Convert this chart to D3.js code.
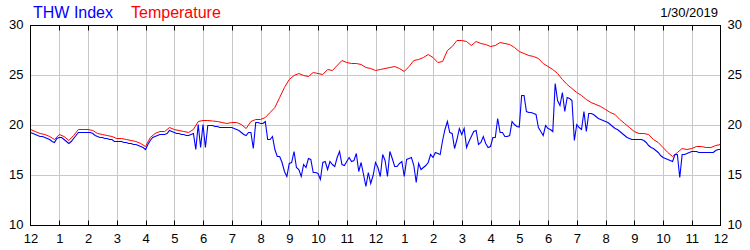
<!DOCTYPE html>
<html>
<head>
<meta charset="utf-8">
<script src="https://cdn.jsdelivr.net/npm/d3@7"></script>
<style>
  body { margin: 0; background: #fff; }
  svg text { font-family: "Liberation Sans", Arial, sans-serif; }
</style>
</head>
<body>
<svg id="chart" width="750" height="250"></svg>
<script>
// hour labels along the bottom, midnight to midnight
const hourLabels = ["12","1","2","3","4","5","6","7","8","9","10","11","12","1","2","3","4","5","6","7","8","9","10","11","12"];
const yTicks = [10, 15, 20, 25, 30];
const chartDate = "1/30/2019";

// temperature, one reading every 10 minutes
const temperature = [
  19.6,19.4,19.2,19.1,18.9,18.6,19.1,18.9,18.5,19.0,
  19.6,19.6,19.6,19.5,19.2,19.1,19.0,18.9,18.7,18.7,
  18.6,18.5,18.4,18.2,17.9,18.8,19.2,19.4,19.4,19.8,
  19.6,19.5,19.4,19.3,19.6,20.4,20.5,20.5,20.45,20.4,
  20.3,20.2,20.3,20.3,20.1,19.7,20.4,20.6,20.6,20.8,
  21.3,21.8,22.8,23.8,24.6,25.0,25.2,25.0,24.9,25.3,
  25.2,25.1,25.6,25.5,26.0,26.5,26.3,26.2,26.2,26.1,
  25.8,25.7,25.5,25.6,25.7,25.8,25.9,25.7,25.4,25.9,
  26.5,26.6,26.8,27.1,26.8,26.3,26.4,27.5,27.9,28.5,
  28.5,28.4,28.0,28.4,28.2,28.1,27.9,28.0,28.3,28.2,
  28.1,27.8,27.4,27.2,27.0,26.9,26.7,26.2,25.9,25.6,
  25.2,24.6,24.1,23.7,23.3,23.0,22.6,22.3,22.1,21.9,
  21.6,21.3,21.1,20.6,20.2,19.8,19.4,19.2,19.2,19.1,
  18.6,18.3,17.8,17.3,16.9,17.3,17.7,17.6,17.7,17.9,
  17.9,17.8,17.8,18.0,18.1
];

// THW index, one reading every 5 minutes
const thwIndex = [
  19.3,19.2,19.1,19.0,18.9,18.9,18.8,18.7,18.6,18.4,
  18.3,18.7,18.8,18.8,18.6,18.4,18.2,18.4,18.7,19.0,
  19.3,19.3,19.3,19.3,19.3,19.3,19.2,19.0,18.9,18.8,
  18.8,18.7,18.7,18.6,18.6,18.4,18.4,18.4,18.4,18.3,
  18.3,18.2,18.2,18.1,18.1,18.0,17.9,17.8,17.6,18.1,
  18.5,18.8,18.9,19.0,19.1,19.1,19.1,19.2,19.5,19.4,
  19.3,19.2,19.2,19.1,19.1,19.0,19.0,19.1,19.2,17.6,
  20.1,17.8,20.1,17.8,20.0,20.0,20.0,19.9,19.9,19.8,
  19.8,19.8,19.8,19.8,19.8,19.7,19.6,19.5,19.3,19.1,
  19.0,19.3,19.3,17.7,20.3,20.3,20.2,20.2,20.4,18.6,
  18.6,18.9,17.6,16.9,16.9,16.3,15.4,14.9,16.2,16.3,
  17.4,15.8,15.6,14.9,16.1,15.8,16.7,16.6,15.3,15.3,
  15.2,14.6,16.3,16.4,15.6,16.4,16.1,15.9,16.8,17.4,
  16.1,16.0,16.4,16.8,16.4,16.5,17.2,15.4,16.3,15.1,
  13.9,15.3,14.2,15.0,16.3,15.8,14.9,17.1,16.5,14.9,
  17.4,16.7,15.9,15.9,16.2,16.4,14.9,16.6,16.7,16.8,
  16.0,14.3,16.2,15.6,15.8,16.0,16.3,17.1,16.8,17.3,
  17.2,17.1,18.5,19.6,20.4,19.3,19.2,17.7,18.6,19.7,
  19.1,19.7,17.8,18.4,18.9,19.4,19.5,18.1,18.3,18.9,
  18.2,17.8,17.9,18.8,18.8,20.7,19.3,19.3,18.9,18.9,
  19.0,20.4,20.1,19.9,19.85,23.0,23.0,21.4,21.3,21.3,
  21.2,21.1,19.8,19.4,19.0,20.0,19.7,19.6,19.4,24.2,
  22.5,22.0,23.3,21.4,22.8,22.7,22.5,18.5,20.1,19.8,
  19.6,21.4,19.4,21.2,21.2,21.1,20.9,20.7,20.6,20.5,
  20.4,20.3,20.1,19.9,19.7,19.6,19.4,19.2,19.0,18.8,
  18.7,18.6,18.6,18.6,18.6,18.6,18.5,18.3,18.0,17.8,
  17.7,17.5,17.3,17.0,16.8,16.7,16.6,16.5,16.4,17.1,
  17.1,14.8,17.1,17.1,17.2,17.3,17.4,17.4,17.4,17.3,
  17.3,17.3,17.3,17.3,17.3,17.3,17.5,17.6,17.6
];

var svg = d3.select("#chart");

// plot box edges (half pixels keep 1px lines crisp)
var plotLeft = 30.5, plotRight = 720.5, plotTop = 25.5, plotBottom = 225.5;

var x = d3.scaleLinear().domain([0, 24]).range([plotLeft, plotRight]);
var y = d3.scaleLinear().domain([10, 30]).range([plotBottom, plotTop]);

// grid
svg.append("g")
  .selectAll("line")
  .data(d3.range(1, 24))
  .enter().append("line")
  .attr("x1", d => Math.round(x(d)) + 0.5).attr("x2", d => Math.round(x(d)) + 0.5)
  .attr("y1", plotTop).attr("y2", plotBottom)
  .attr("stroke", "#c8c8c8");

svg.append("g")
  .selectAll("line")
  .data(yTicks.slice(1, -1))
  .enter().append("line")
  .attr("x1", plotLeft).attr("x2", plotRight)
  .attr("y1", d => y(d)).attr("y2", d => y(d))
  .attr("stroke", "#c8c8c8");

// little tick marks on top and bottom edges
var ticks = svg.append("g").attr("stroke", "#000");
d3.range(1, 24).forEach(function (d) {
  var px = Math.round(x(d)) + 0.5;
  ticks.append("line").attr("x1", px).attr("x2", px).attr("y1", plotTop).attr("y2", plotTop + 5);
  ticks.append("line").attr("x1", px).attr("x2", px).attr("y1", plotBottom - 5).attr("y2", plotBottom);
});

// series
function lineFor(step) {
  return d3.line()
    .x((d, i) => x(i * step))
    .y(d => y(d));
}

svg.append("path")
  .datum(temperature)
  .attr("d", lineFor(1 / 6))
  .attr("fill", "none")
  .attr("stroke", "#ff0000")
  .attr("stroke-width", 1);

svg.append("path")
  .datum(thwIndex)
  .attr("d", lineFor(1 / 12))
  .attr("fill", "none")
  .attr("stroke", "#0000ff")
  .attr("stroke-width", 1.1);

// frame
svg.append("rect")
  .attr("x", plotLeft).attr("y", plotTop)
  .attr("width", plotRight - plotLeft).attr("height", plotBottom - plotTop)
  .attr("fill", "none").attr("stroke", "#000");

// axis labels
var xAxis = d3.axisBottom(x)
  .tickValues(d3.range(25))
  .tickSize(0)
  .tickPadding(8)
  .tickFormat(d => hourLabels[d]);

var gx = svg.append("g").attr("transform", "translate(0," + plotBottom + ")").call(xAxis);
gx.select(".domain").remove();
gx.selectAll("text").attr("font-size", 13).attr("fill", "#000")
  .style("font-family", "'Liberation Sans', Arial, sans-serif");

var yl = d3.axisLeft(y).tickValues(yTicks).tickSize(0).tickPadding(7);
var gyl = svg.append("g").attr("transform", "translate(" + plotLeft + ",0)").call(yl);
gyl.select(".domain").remove();
gyl.selectAll("text").attr("font-size", 13).attr("fill", "#000").attr("dy", "0.2em")
  .style("font-family", "'Liberation Sans', Arial, sans-serif");

var yr = d3.axisRight(y).tickValues(yTicks).tickSize(0).tickPadding(7);
var gyr = svg.append("g").attr("transform", "translate(" + plotRight + ",0)").call(yr);
gyr.select(".domain").remove();
gyr.selectAll("text").attr("font-size", 13).attr("fill", "#000").attr("dy", "0.2em")
  .style("font-family", "'Liberation Sans', Arial, sans-serif");

// legend and date
svg.append("text").attr("x", 33).attr("y", 18)
  .attr("font-size", 16).attr("fill", "#0000ff").text("THW Index");
svg.append("text").attr("x", 131).attr("y", 18)
  .attr("font-size", 16).attr("fill", "#ff0000").text("Temperature");
svg.append("text").attr("x", 718).attr("y", 17)
  .attr("font-size", 13).attr("text-anchor", "end").attr("fill", "#000").text(chartDate);
</script>
</body>
</html>
